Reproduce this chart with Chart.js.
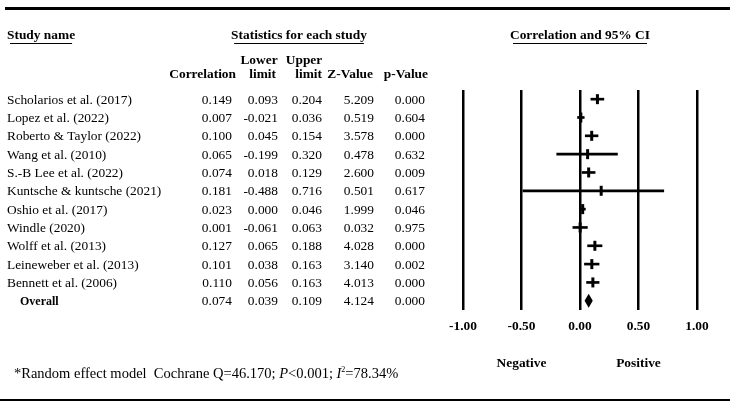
<!DOCTYPE html>
<html lang="en">
<head>
    <meta charset="UTF-8">
    <title>Forest plot</title>
    <style>
        html, body { margin: 0; padding: 0; background: #fff; }
        #wrap { width: 737px; height: 410px; position: relative; }
    </style>
</head>
<body>
    <div id="wrap"><canvas id="forest"></canvas></div>

    <script src="https://cdn.jsdelivr.net/npm/chart.js"></script>
    <script>
        // Study data
        var studies = [
            "Scholarios et al. (2017)", "Lopez et al. (2022)", "Roberto & Taylor (2022)",
            "Wang et al. (2010)", "S.-B Lee et al. (2022)", "Kuntsche & kuntsche (2021)",
            "Oshio et al. (2017)", "Windle (2020)", "Wolff et al. (2013)",
            "Leineweber et al. (2013)", "Bennett et al. (2006)", "Overall"
        ];
        var correlation = [0.149, 0.007, 0.100, 0.065, 0.074, 0.181, 0.023, 0.001, 0.127, 0.101, 0.110, 0.074];
        var lowerLimit = [0.093, -0.021, 0.045, -0.199, 0.018, -0.488, 0.000, -0.061, 0.065, 0.038, 0.056, 0.039];
        var upperLimit = [0.204, 0.036, 0.154, 0.320, 0.129, 0.716, 0.046, 0.063, 0.188, 0.163, 0.163, 0.109];
        var zValue = [5.209, 0.519, 3.578, 0.478, 2.600, 0.501, 1.999, 0.032, 4.028, 3.140, 4.013, 4.124];
        var pValue = [0.000, 0.604, 0.000, 0.632, 0.009, 0.617, 0.046, 0.975, 0.000, 0.002, 0.000, 0.000];
        var xTicks = [-1, -0.5, 0, 0.5, 1];

        var overallIdx = studies.length - 1;
        var serif = "'Liberation Serif', 'Times New Roman', serif";

        // CI bars for the single studies (overall gets the diamond)
        var ciData = studies.map(function (s, i) {
            return i === overallIdx ? null : [lowerLimit[i], upperLimit[i]];
        });
        var pointData = [];
        studies.forEach(function (s, i) {
            if (i !== overallIdx) pointData.push({ x: correlation[i], y: s });
        });

        function underlined(ctx, text, x, y, align) {
            ctx.textAlign = align;
            ctx.fillText(text, x, y);
            var w = ctx.measureText(text).width;
            var x0 = align === "center" ? x - w / 2 : (align === "right" ? x - w : x);
            ctx.fillRect(x0 + 3, y + 4, w - 6, 1);
        }

        var tablePlugin = {
            id: "tablePlugin",
            afterDraw: function (chart) {
                var ctx = chart.ctx;
                var ys = chart.scales.y;
                var xs = chart.scales.x;
                ctx.save();
                ctx.fillStyle = "#000";

                // rules
                ctx.fillRect(5, 7, 725, 3);
                ctx.fillRect(0, 399, 730, 2);

                // headings
                ctx.textBaseline = "alphabetic";
                ctx.font = "bold 13.4px " + serif;
                underlined(ctx, "Study name", 7, 39, "left");
                underlined(ctx, "Statistics for each study", 299, 39, "center");
                underlined(ctx, "Correlation and 95% CI", 580, 39, "center");

                ctx.textAlign = "center";
                ctx.fillText("Lower", 259, 64);
                ctx.fillText("Upper", 304, 64);
                ctx.textAlign = "right";
                ctx.fillText("Correlation", 236, 78);
                ctx.fillText("limit", 276, 78);
                ctx.fillText("limit", 322, 78);
                ctx.fillText("Z-Value", 373, 78);
                ctx.fillText("p-Value", 428, 78);

                // rows
                ctx.textBaseline = "middle";
                studies.forEach(function (name, i) {
                    var y = ys.getPixelForValue(i) + 1;
                    var isOverall = i === overallIdx;
                    ctx.font = (isOverall ? "bold 12px " : "13.4px ") + serif;
                    ctx.textAlign = "left";
                    ctx.fillText(name, isOverall ? 20 : 7, y);
                    ctx.font = "13.4px " + serif;
                    ctx.textAlign = "right";
                    ctx.fillText(correlation[i].toFixed(3), 232, y);
                    ctx.fillText(lowerLimit[i].toFixed(3), 278, y);
                    ctx.fillText(upperLimit[i].toFixed(3), 322, y);
                    ctx.fillText(zValue[i].toFixed(3), 374, y);
                    ctx.fillText(pValue[i].toFixed(3), 425, y);
                });

                // overall diamond
                var yc = ys.getPixelForValue(overallIdx);
                ctx.beginPath();
                ctx.moveTo(xs.getPixelForValue(lowerLimit[overallIdx]), yc);
                ctx.lineTo(xs.getPixelForValue(correlation[overallIdx]), yc - 7);
                ctx.lineTo(xs.getPixelForValue(upperLimit[overallIdx]), yc);
                ctx.lineTo(xs.getPixelForValue(correlation[overallIdx]), yc + 7);
                ctx.closePath();
                ctx.fill();

                // direction labels
                ctx.font = "bold 13.4px " + serif;
                ctx.textAlign = "center";
                ctx.textBaseline = "alphabetic";
                ctx.fillText("Negative", xs.getPixelForValue(-0.5), 367);
                ctx.fillText("Positive", xs.getPixelForValue(0.5), 367);

                // footnote
                ctx.textAlign = "left";
                var fx = 14, fy = 378;
                var parts = [
                    ["*Random effect model  Cochrane Q=46.170; ", "14.5px "],
                    ["P", "italic 14.5px "],
                    ["<0.001; ", "14.5px "],
                    ["I", "italic 14.5px "],
                    ["2", "8px ", -6],
                    ["=78.34%", "14.5px "]
                ];
                parts.forEach(function (p) {
                    ctx.font = p[1] + serif;
                    ctx.fillText(p[0], fx, fy + (p[2] || 0));
                    fx += ctx.measureText(p[0]).width;
                });
                ctx.restore();
            }
        };

        new Chart(document.getElementById("forest"), {
            type: "bar",
            data: {
                labels: studies,
                datasets: [{
                    label: "95% CI",
                    data: ciData,
                    backgroundColor: "#000",
                    barThickness: 2,
                    grouped: false,
                    order: 2
                }, {
                    type: "scatter",
                    label: "Correlation",
                    data: pointData,
                    pointStyle: "line",
                    rotation: 90,
                    radius: 5,
                    borderWidth: 3,
                    borderColor: "#000",
                    backgroundColor: "#000",
                    order: 1
                }]
            },
            options: {
                indexAxis: "y",
                responsive: true,
                maintainAspectRatio: false,
                animation: false,
                layout: { padding: { left: 463, right: 40, top: 90, bottom: 66 } },
                plugins: { legend: { display: false }, tooltip: { enabled: false } },
                scales: {
                    x: {
                        type: "linear",
                        min: -1,
                        max: 1,
                        afterBuildTicks: function (axis) {
                            axis.ticks = xTicks.map(function (v) { return { value: v }; });
                        },
                        grid: { color: "#000", lineWidth: 2.5, drawTicks: false },
                        border: { display: false },
                        ticks: {
                            padding: 9,
                            color: "#000",
                            font: { family: serif, size: 13.4, weight: "bold" },
                            callback: function (v) { return v.toFixed(2); }
                        }
                    },
                    y: {
                        type: "category",
                        display: false,
                        offset: true,
                        grid: { display: false }
                    }
                }
            },
            plugins: [tablePlugin]
        });
    </script>
</body>
</html>
